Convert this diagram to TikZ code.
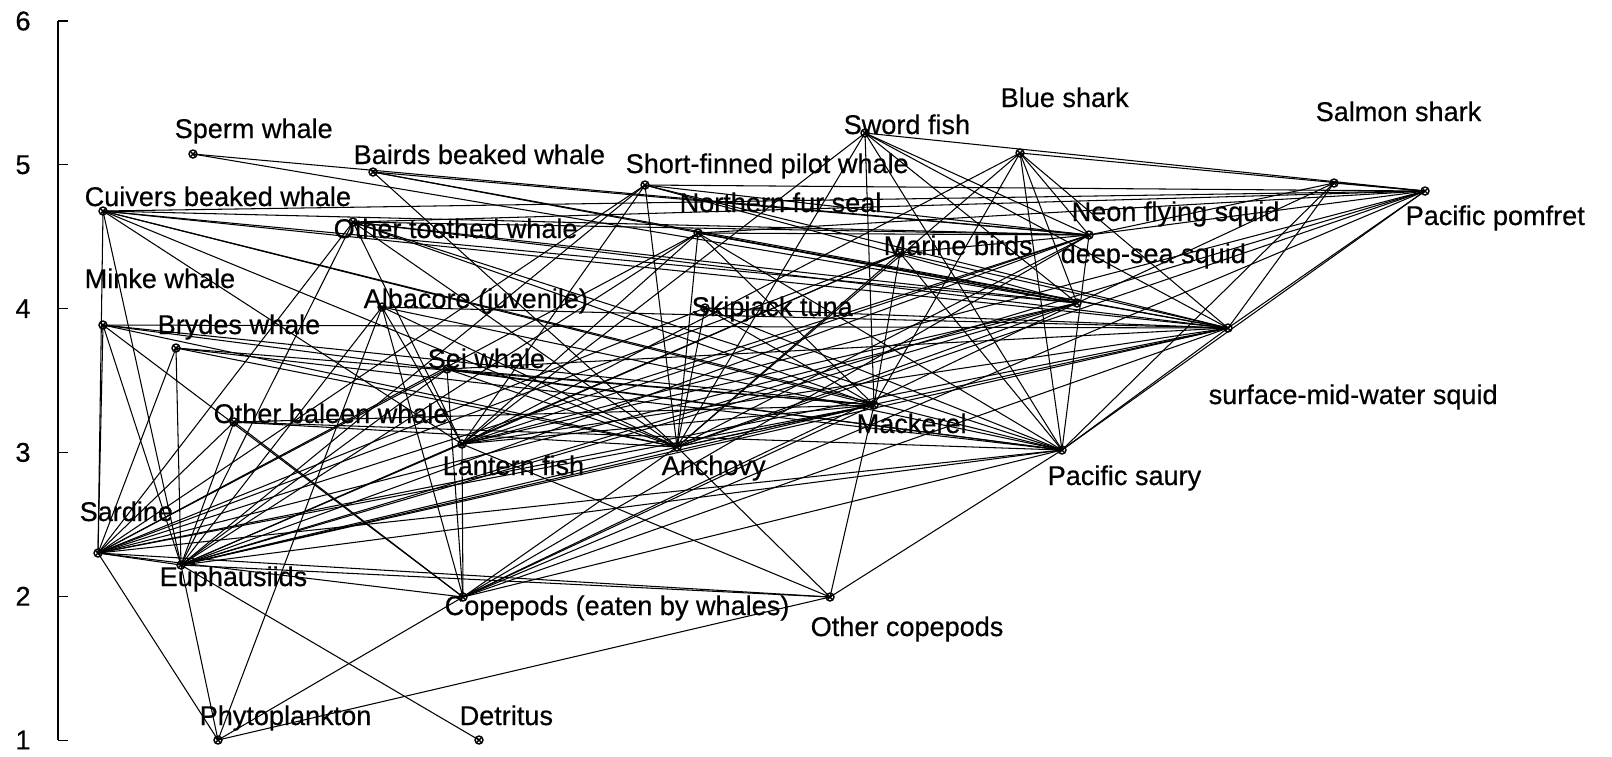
\documentclass[tikz,border=0pt]{standalone}
\usepackage{fontspec}
\setmainfont{Liberation Sans}
\newfontfamily\tagfont{Liberation Sans}[FakeBold=0.5]
\usetikzlibrary{calc}
\newcommand{\drawlink}{\draw[link]}
\newcommand{\spot}[1]{\draw[mark ring] (#1) circle (4);
    \draw[mark ring] ($(#1)+(-2.5,-2.5)$) -- ($(#1)+(2.5,2.5)$);
    \draw[mark ring] ($(#1)+(-2.5,2.5)$) -- ($(#1)+(2.5,-2.5)$);
}

\begin{document}
\begin{tikzpicture}[x=0.01cm, y=-0.01cm,
    link/.style={black, line width=0.3pt},
    mark ring/.style={black, line width=0.4pt},
    tag/.style={anchor=base west, inner sep=0pt, font=\tagfont\fontsize{7.7pt}{9pt}\selectfont},
    num/.style={inner sep=0pt, font=\tagfont\fontsize{7.7pt}{9pt}\selectfont}]
    \useasboundingbox (0,0) rectangle (1612,756);

    % Draw axis
    \draw[link] (58,21) -- (58,740);
    \foreach \v in {1,...,6} {
        \draw[link] (58,{740-(\v-1)*143.8}) -- (68,{740-(\v-1)*143.8});
        \node[num] (tick\v) at (23,{740-(\v-1)*143.8}) {\v};
    }

    % Species
    \coordinate (sperm) at (193,154);
    \coordinate (baird) at (373,172);
    \coordinate (cuivier) at (103,211);
    \coordinate (othtooth) at (353,222);
    \coordinate (minke) at (103,325);
    \coordinate (brydes) at (176,348);
    \coordinate (albacore) at (382,307);
    \coordinate (sei) at (447,369);
    \coordinate (othbaleen) at (234,422);
    \coordinate (lantern) at (462,444);
    \coordinate (sardine) at (98,553);
    \coordinate (euph) at (181,565);
    \coordinate (copew) at (463,597);
    \coordinate (phyto) at (218,740);
    \coordinate (detritus) at (479,740);
    \coordinate (pilot) at (645,185);
    \coordinate (furseal) at (698,233);
    \coordinate (sword) at (865,133);
    \coordinate (blueshark) at (1020,153);
    \coordinate (birds) at (900,253);
    \coordinate (skipjack) at (705,308);
    \coordinate (salmon) at (1334,183);
    \coordinate (pomfret) at (1425,191);
    \coordinate (neon) at (1089,235);
    \coordinate (deepsq) at (1077,303);
    \coordinate (smwsq) at (1228,328);
    \coordinate (anchovy) at (677,447);
    \coordinate (mackerel) at (874,405);
    \coordinate (saury) at (1062,450);
    \coordinate (othcope) at (830,597);

    % Draw feeding links
    \foreach \a/\b in {sperm/neon, sperm/deepsq,
        baird/neon, baird/deepsq, baird/smwsq, baird/anchovy,
        cuivier/sardine, cuivier/euph, cuivier/lantern, cuivier/anchovy, cuivier/mackerel,
        cuivier/saury, cuivier/smwsq, cuivier/deepsq, cuivier/neon, cuivier/pomfret,
        othtooth/sardine, othtooth/euph, othtooth/lantern, othtooth/anchovy, othtooth/mackerel,
        othtooth/saury, othtooth/smwsq, othtooth/deepsq, othtooth/neon, othtooth/pomfret,
        minke/sardine, minke/euph, minke/copew, minke/anchovy, minke/saury, minke/mackerel, minke/smwsq,
        brydes/euph, brydes/anchovy, brydes/mackerel, brydes/saury, brydes/sardine,
        sei/euph, sei/copew, sei/anchovy, sei/saury, sei/mackerel, sei/sardine, sei/smwsq,
        othbaleen/euph, othbaleen/copew, othbaleen/anchovy, othbaleen/saury, othbaleen/mackerel, othbaleen/sardine,
        albacore/anchovy, albacore/saury, albacore/lantern, albacore/smwsq, albacore/euph, albacore/copew, albacore/phyto,
        pilot/neon, pilot/deepsq, pilot/smwsq, pilot/pomfret, pilot/lantern, pilot/anchovy, pilot/sardine, pilot/euph,
        furseal/anchovy, furseal/saury, furseal/mackerel, furseal/lantern, furseal/sardine,
        furseal/neon, furseal/smwsq, furseal/deepsq, furseal/pomfret, furseal/euph,
        sword/neon, sword/deepsq, sword/smwsq, sword/pomfret, sword/mackerel, sword/saury, sword/lantern, sword/anchovy,
        blueshark/pomfret, blueshark/neon, blueshark/deepsq, blueshark/smwsq, blueshark/saury,
        blueshark/mackerel, blueshark/anchovy, blueshark/lantern,
        birds/anchovy, birds/saury, birds/sardine, birds/lantern, birds/mackerel, birds/euph, birds/smwsq, birds/neon,
        skipjack/anchovy, skipjack/sardine, skipjack/saury, skipjack/mackerel, skipjack/smwsq,
        salmon/pomfret, salmon/neon, salmon/smwsq, salmon/saury, salmon/deepsq,
        pomfret/smwsq, pomfret/saury, pomfret/lantern, pomfret/euph, pomfret/anchovy, pomfret/copew, pomfret/neon,
        neon/lantern, neon/anchovy, neon/saury, neon/sardine, neon/euph, neon/copew,
        deepsq/lantern, deepsq/euph, deepsq/anchovy, deepsq/copew, deepsq/sardine,
        smwsq/lantern, smwsq/euph, smwsq/anchovy, smwsq/sardine, smwsq/copew, smwsq/saury,
        anchovy/copew, anchovy/othcope, anchovy/euph,
        mackerel/anchovy, mackerel/sardine, mackerel/euph, mackerel/copew, mackerel/othcope, mackerel/lantern,
        saury/copew, saury/othcope, saury/euph, saury/sardine,
        lantern/copew, lantern/othcope, lantern/euph,
        sardine/phyto, sardine/copew, sardine/othcope, sardine/euph,
        euph/phyto, euph/detritus, euph/othcope,
        copew/phyto, othcope/phyto}
        \drawlink (\a) -- (\b);

    % Draw markers
    \foreach \n in {sperm, baird, cuivier, othtooth, minke, brydes, albacore, sei, othbaleen,
        lantern, sardine, euph, copew, phyto, detritus, pilot, furseal, sword, blueshark, birds,
        skipjack, salmon, pomfret, neon, deepsq, smwsq, anchovy, mackerel, saury, othcope}
        {\spot{\n}}

    % Names
    \node[tag] (sperm-t) at (174,138) {Sperm whale};
    \node[tag] (baird-t) at (353,164) {Bairds beaked whale};
    \node[tag] (cuivier-t) at (84,206) {Cuivers beaked whale};
    \node[tag] (othtooth-t) at (333,238) {Other toothed whale};
    \node[tag] (minke-t) at (84,288) {Minke whale};
    \node[tag] (brydes-t) at (157,334) {Brydes whale};
    \node[tag] (albacore-t) at (363,308) {Albacore (juvenile)};
    \node[tag] (sei-t) at (427,368) {Sei whale};
    \node[tag] (othbaleen-t) at (213,423) {Other baleen whale};
    \node[tag] (lantern-t) at (442,475) {Lantern fish};
    \node[tag] (sardine-t) at (79,521) {Sardine};
    \node[tag] (euph-t) at (159,586) {Euphausiids};
    \node[tag] (copew-t) at (444,615) {Copepods (eaten by whales)};
    \node[tag] (phyto-t) at (199,725) {Phytoplankton};
    \node[tag] (detritus-t) at (459,725) {Detritus};
    \node[tag] (pilot-t) at (625,173) {Short-finned pilot whale};
    \node[tag] (furseal-t) at (679,212) {Northern fur seal};
    \node[tag] (sword-t) at (843,134) {Sword fish};
    \node[tag] (blueshark-t) at (1000,107) {Blue shark};
    \node[tag] (birds-t) at (883,255) {Marine birds};
    \node[tag] (skipjack-t) at (691,316) {Skipjack tuna};
    \node[tag] (salmon-t) at (1315,121) {Salmon shark};
    \node[tag] (pomfret-t) at (1405,225) {Pacific pomfret};
    \node[tag] (neon-t) at (1071,221) {Neon flying squid};
    \node[tag] (deepsq-t) at (1060,263) {deep-sea squid};
    \node[tag] (smwsq-t) at (1208,404) {surface-mid-water squid};
    \node[tag] (anchovy-t) at (661,475) {Anchovy};
    \node[tag] (mackerel-t) at (856,433) {Mackerel};
    \node[tag] (saury-t) at (1047,485) {Pacific saury};
    \node[tag] (othcope-t) at (810,636) {Other copepods};
\end{tikzpicture}
\end{document}
